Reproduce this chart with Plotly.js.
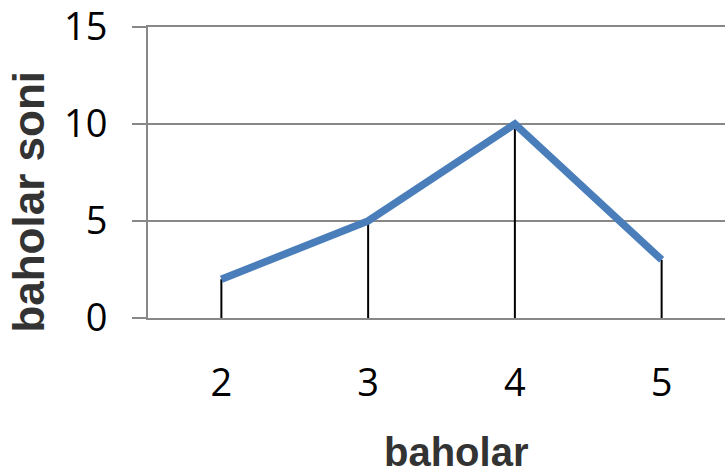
<!DOCTYPE html>
<html>
<head>
<meta charset="utf-8">
<script src="https://cdn.plot.ly/plotly-3.0.1.min.js"></script>
<style>html,body{margin:0;padding:0;overflow:hidden;background:#fff;}#chart{width:735px;height:473px;}</style>
</head>
<body>
<div id="chart"></div>
<script>
const categories = ['2', '3', '4', '5'];
const counts = [2, 5, 10, 3];
const yTicks = [0, 5, 10, 15];
const xTitle = 'baholar';
const yTitle = 'baholar soni';

const dropX = [], dropY = [];
categories.forEach((c, i) => { dropX.push(c, c, null); dropY.push(0, counts[i], null); });

const traces = [
  { x: dropX, y: dropY, type: 'scatter', mode: 'lines', line: { color: '#000000', width: 2 }, hoverinfo: 'skip', showlegend: false },
  { x: categories, y: counts, type: 'scatter', mode: 'lines', line: { color: '#4a7ebb', width: 7.5 }, showlegend: false }
];

const titleFont = { family: 'Liberation Sans, Arial, sans-serif', color: '#333333', weight: 'bold' };

const layout = {
  width: 735, height: 473,
  margin: { l: 148, r: 0, t: 27, b: 155 },
  paper_bgcolor: '#ffffff', plot_bgcolor: '#ffffff',
  showlegend: false,
  xaxis: {
    type: 'category', range: [-0.5, 3.5],
    showgrid: false, zeroline: false,
    showline: true, mirror: true, linecolor: '#888888', linewidth: 2,
    ticks: '', ticklabelstandoff: 30,
    tickfont: { family: 'Open Sans, sans-serif', size: 38, color: '#000000' },
    automargin: false, fixedrange: true
  },
  yaxis: {
    range: [0, 15], tickvals: yTicks, ticktext: yTicks.map(String),
    showgrid: true, gridcolor: '#888888', gridwidth: 2,
    zeroline: false,
    showline: true, linecolor: '#888888', linewidth: 2,
    ticks: 'outside', ticklen: 14, tickwidth: 2, tickcolor: '#888888',
    ticklabelstandoff: 17, ticklabeloverflow: 'allow',
    tickfont: { family: 'Open Sans, sans-serif', size: 38, color: '#000000' },
    automargin: false, fixedrange: true
  },
  annotations: [
    { text: xTitle, xref: 'paper', yref: 'paper', x: 0.525, y: 0, xanchor: 'center', yanchor: 'middle', yshift: -134, showarrow: false, font: Object.assign({ size: 40 }, titleFont) },
    { text: yTitle, xref: 'paper', yref: 'paper', x: 0, y: 0.4, xanchor: 'center', yanchor: 'middle', xshift: -119, textangle: -90, showarrow: false, font: Object.assign({ size: 44 }, titleFont) }
  ]
};

Plotly.newPlot('chart', traces, layout, { displayModeBar: false, staticPlot: true });
</script>
</body>
</html>
